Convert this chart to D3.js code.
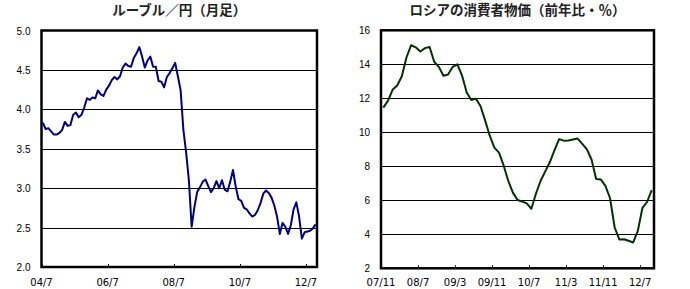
<!DOCTYPE html>
<html>
<head>
<meta charset="utf-8">
<script src="https://cdn.jsdelivr.net/npm/d3@7"></script>
<style>
  body { margin: 0; background: #fff; }
  svg { display: block; }
</style>
</head>
<body>
<svg id="chart" width="690" height="289"></svg>
<script>
// ルーブル／円（月足） 2004/7 - 2012/10
const rubYen = [
  3.83, 3.75, 3.76, 3.72, 3.68, 3.68, 3.70, 3.74, 3.84, 3.79,
  3.80, 3.93, 3.96, 3.90, 3.93, 4.02, 4.14, 4.12, 4.15, 4.14,
  4.24, 4.19, 4.17, 4.25, 4.30, 4.37, 4.41, 4.38, 4.42, 4.53,
  4.58, 4.55, 4.54, 4.65, 4.71, 4.79, 4.67, 4.53, 4.62, 4.67,
  4.54, 4.54, 4.36, 4.35, 4.28, 4.41, 4.46, 4.52, 4.59, 4.42,
  4.24, 3.74, 3.45, 3.10, 2.51, 2.76, 2.95, 3.01, 3.08, 3.11,
  3.03, 2.95, 3.00, 3.09, 3.00, 3.10, 2.98, 2.96, 3.08, 3.23,
  3.02, 2.86, 2.84, 2.75, 2.73, 2.68, 2.64, 2.66, 2.72, 2.81,
  2.93, 2.97, 2.94, 2.88, 2.78, 2.64, 2.42, 2.56, 2.51, 2.42,
  2.53, 2.73, 2.82, 2.64, 2.36, 2.44, 2.45, 2.46, 2.49, 2.54
];
const rubTickLabels = ["04/7", "06/7", "08/7", "10/7", "12/7"];
const rubTickIndex = [0, 24, 48, 72, 96];
const rubYTicks = [2.0, 2.5, 3.0, 3.5, 4.0, 4.5, 5.0];

// ロシアの消費者物価（前年比・％） 2007/11 - 2012/9
const cpi = [
  11.45, 11.85, 12.5, 12.75, 13.3, 14.4, 15.12, 15.0, 14.75, 14.95,
  15.02, 14.15, 13.85, 13.33, 13.4, 13.85, 14.0, 13.35, 12.35, 11.9,
  11.98, 11.55, 10.7, 9.8, 9.1, 8.8, 8.05, 7.15, 6.45, 6.02,
  5.93, 5.82, 5.5, 6.4, 7.15, 7.7, 8.25, 8.95, 9.6, 9.51,
  9.52, 9.58, 9.63, 9.32, 9.0, 8.4, 7.25, 7.23, 6.85, 6.12,
  4.4, 3.7, 3.71, 3.62, 3.52, 4.2, 5.55, 5.9, 6.6
];
const cpiTickLabels = ["07/11", "08/7", "09/3", "09/11", "10/7", "11/3", "11/11", "12/7"];
const cpiTickIndex = [0, 8, 16, 24, 32, 40, 48, 56];
const cpiYTicks = [2, 4, 6, 8, 10, 12, 14, 16];

const svg = d3.select("#chart")
  .style("font-family", "'DejaVu Sans', sans-serif");

function drawPanel(opt) {
  const { left, right, top, bottom, values, yTicks, yFormat, tickIdx, tickLabels, title, color } = opt;

  const x = d3.scaleLinear().domain([0, values.length]).range([left, right]);
  const y = d3.scaleLinear().domain([yTicks[0], yTicks[yTicks.length - 1]]).range([bottom, top]);

  const g = svg.append("g");

  // title
  g.append("text")
    .attr("x", (left + right) / 2)
    .attr("y", 15)
    .attr("text-anchor", "middle")
    .style("font-family", "'Noto Sans CJK JP', sans-serif")
    .style("font-size", "13.5px")
    .style("font-weight", "bold")
    .attr("fill", "#222")
    .text(title);

  // grid lines
  g.selectAll("line.grid")
    .data(yTicks.slice(1, -1))
    .join("line")
    .attr("class", "grid")
    .attr("x1", left).attr("x2", right)
    .attr("y1", d => Math.round(y(d)) + 0.5)
    .attr("y2", d => Math.round(y(d)) + 0.5)
    .attr("stroke", "#000")
    .attr("stroke-width", 1.2);

  // y labels
  const yAxis = d3.axisLeft(y).tickValues(yTicks).tickFormat(yFormat).tickSize(0).tickPadding(11);
  g.append("g")
    .attr("transform", `translate(${left},0)`)
    .call(yAxis)
    .call(a => a.select(".domain").remove())
    .call(a => a.selectAll("text").style("font-size", "10px").attr("fill", "#000").attr("dy", "0.35em"));

  // x ticks (small inward marks) and labels
  g.selectAll("line.xt")
    .data(tickIdx)
    .join("line")
    .attr("class", "xt")
    .attr("x1", d => Math.round(x(d)) + 0.5).attr("x2", d => Math.round(x(d)) + 0.5)
    .attr("y1", bottom).attr("y2", bottom - 3)
    .attr("stroke", "#000");

  g.selectAll("text.xl")
    .data(tickIdx)
    .join("text")
    .attr("class", "xl")
    .attr("x", d => x(d))
    .attr("y", 286)
    .attr("text-anchor", "middle")
    .style("font-size", "10px")
    .text((d, i) => tickLabels[i]);

  // series line
  const line = d3.line()
    .x((d, i) => x(i + 0.5))
    .y(d => y(d));

  g.append("path")
    .datum(values)
    .attr("d", line)
    .attr("fill", "none")
    .attr("stroke", color)
    .attr("stroke-width", 2)
    .attr("stroke-linejoin", "round");

  // frame
  g.append("rect")
    .attr("x", left).attr("y", top)
    .attr("width", right - left).attr("height", bottom - top)
    .attr("fill", "none")
    .attr("stroke", "#000")
    .attr("stroke-width", 2.5);
}

drawPanel({
  left: 41.5, right: 317, top: 30.5, bottom: 267,
  values: rubYen, yTicks: rubYTicks, yFormat: d3.format(".1f"),
  tickIdx: rubTickIndex, tickLabels: rubTickLabels,
  title: "ルーブル／円（月足）", color: "#000080"
});

drawPanel({
  left: 381, right: 654, top: 30.3, bottom: 268.3,
  values: cpi, yTicks: cpiYTicks, yFormat: d3.format("d"),
  tickIdx: cpiTickIndex, tickLabels: cpiTickLabels,
  title: "ロシアの消費者物価（前年比・％）", color: "#003300"
});
</script>
</body>
</html>
